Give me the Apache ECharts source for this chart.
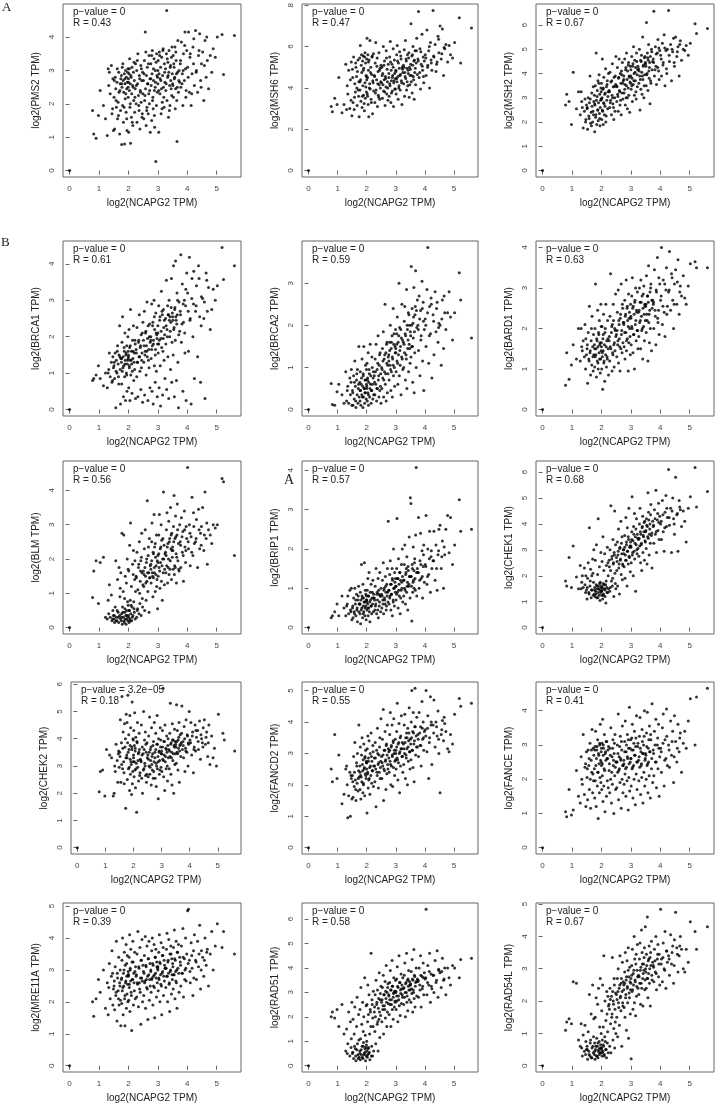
<!DOCTYPE html>
<html>
<head>
<meta charset="utf-8">
<script src="https://cdn.jsdelivr.net/npm/echarts@6/dist/echarts.min.js"></script>
<style>
  html, body { margin: 0; padding: 0; background: #fff; }
  #chart { width: 715px; height: 1107px; }
</style>
</head>
<body>
<div id="chart"></div>
<script>
// NCAPG2 expression of each sample, grouped in 0.25-wide bins (same samples in every panel)
const ncapg2 = [
  [0],
  [0.78, 0.82, 0.9, 0.98],
  [1.04, 1.15, 1.22],
  [1.28, 1.31, 1.35, 1.38, 1.42, 1.44, 1.47, 1.49, 1.33, 1.46],
  [1.51, 1.53, 1.55, 1.57, 1.59, 1.61, 1.63, 1.65, 1.67, 1.68, 1.7, 1.72, 1.73, 1.74, 1.52, 1.58, 1.62, 1.66, 1.71],
  [1.76, 1.77, 1.78, 1.79, 1.8, 1.82, 1.83, 1.84, 1.86, 1.87, 1.88, 1.89, 1.9, 1.92, 1.93, 1.94, 1.95, 1.96, 1.98, 1.99, 1.77, 1.81, 1.85, 1.88, 1.91, 1.94, 1.97, 1.99],
  [2.0, 2.01, 2.02, 2.03, 2.04, 2.05, 2.06, 2.07, 2.08, 2.1, 2.11, 2.12, 2.14, 2.15, 2.17, 2.18, 2.2, 2.21, 2.23, 2.24, 2.0, 2.03, 2.06, 2.09, 2.13, 2.16, 2.19, 2.22],
  [2.26, 2.28, 2.29, 2.31, 2.32, 2.34, 2.36, 2.37, 2.39, 2.4, 2.42, 2.43, 2.45, 2.46, 2.48, 2.49, 2.27, 2.3, 2.35, 2.38, 2.41, 2.44, 2.47],
  [2.51, 2.52, 2.54, 2.55, 2.57, 2.58, 2.6, 2.61, 2.63, 2.64, 2.66, 2.67, 2.69, 2.7, 2.71, 2.73, 2.74, 2.53, 2.56, 2.59, 2.62, 2.65, 2.68, 2.72],
  [2.76, 2.77, 2.79, 2.8, 2.81, 2.83, 2.84, 2.85, 2.87, 2.88, 2.89, 2.91, 2.92, 2.93, 2.95, 2.96, 2.98, 2.99, 2.76, 2.79, 2.82, 2.85, 2.88, 2.91, 2.94, 2.97],
  [3.0, 3.01, 3.03, 3.04, 3.05, 3.07, 3.08, 3.09, 3.11, 3.12, 3.13, 3.15, 3.16, 3.18, 3.19, 3.21, 3.22, 3.24, 3.0, 3.03, 3.06, 3.1, 3.14, 3.17, 3.2, 3.23],
  [3.26, 3.27, 3.29, 3.3, 3.31, 3.33, 3.34, 3.36, 3.37, 3.38, 3.4, 3.41, 3.43, 3.44, 3.46, 3.47, 3.49, 3.28, 3.32, 3.35, 3.39, 3.42, 3.45, 3.48],
  [3.5, 3.52, 3.53, 3.55, 3.56, 3.58, 3.59, 3.6, 3.62, 3.63, 3.65, 3.66, 3.68, 3.7, 3.72, 3.74, 3.51, 3.54, 3.57, 3.61, 3.64, 3.67, 3.71],
  [3.76, 3.78, 3.8, 3.83, 3.85, 3.87, 3.9, 3.92, 3.94, 3.96, 3.98, 3.77, 3.82, 3.86, 3.91, 3.95],
  [4.01, 4.04, 4.07, 4.1, 4.13, 4.16, 4.19, 4.21, 4.24, 4.03, 4.09, 4.15, 4.22],
  [4.28, 4.31, 4.35, 4.38, 4.42, 4.45, 4.48, 4.3, 4.4, 4.47],
  [4.52, 4.56, 4.6, 4.64, 4.68, 4.72, 4.58, 4.66],
  [4.78, 4.83, 4.88, 4.95],
  [5.02, 5.18, 5.23],
  [5.6]
];

// each gene: values of the same samples, bin by bin
const pms2 = [
  [0],
  [1.8, 1.1, 0.97, 1.65],
  [2.4, 1.95, 1.55],
  [1.05, 3.05, 2.95, 2.3, 3.15, 1.7, 2.75, 1.2, 2.55, 1.85],
  [2.2, 1.25, 2.8, 2.45, 1.9, 2.65, 1.55, 2.05, 2.95, 2.35, 1.1, 2.6, 1.8, 2.75, 2.7, 2.1, 3.05, 1.65, 2.4],
  [2.85, 0.78, 2.5, 3.1, 1.95, 2.7, 1.45, 2.35, 2.9, 0.8, 2.6, 2.15, 3.0, 1.75, 2.8, 2.45, 1.2, 2.65, 3.05, 2.2, 2.6, 3.2, 1.9, 2.75, 2.3, 1.55, 2.95, 2.5],
  [2.75, 1.15, 2.9, 2.4, 3.35, 1.9, 2.6, 0.82, 2.85, 1.6, 2.3, 3.1, 2.55, 1.35, 2.95, 2.1, 2.7, 1.75, 2.45, 3.2, 2.65, 3.05, 2.0, 2.8, 1.45, 2.5, 3.25, 2.2],
  [2.0, 3.0, 1.45, 2.6, 3.5, 2.25, 1.8, 2.85, 1.25, 2.4, 3.15, 2.05, 2.7, 1.6, 2.95, 2.3, 2.55, 3.3, 1.95, 2.75, 2.35, 3.05, 1.7],
  [2.7, 1.55, 3.3, 2.1, 4.15, 2.45, 1.35, 2.85, 1.9, 3.1, 2.6, 1.7, 2.3, 3.45, 2.0, 2.75, 1.15, 2.9, 2.25, 3.55, 1.8, 2.6, 3.2, 2.4],
  [3.2, 2.55, 1.5, 2.9, 3.6, 2.2, 1.85, 2.7, 3.35, 2.4, 1.3, 3.0, 2.65, 0.27, 1.95, 3.5, 2.35, 2.8, 2.75, 3.45, 2.1, 3.05, 1.65, 2.5, 3.25, 2.85],
  [2.6, 3.3, 1.15, 2.9, 3.55, 2.3, 2.75, 3.1, 1.7, 2.45, 3.4, 2.05, 2.85, 3.65, 2.5, 1.9, 3.2, 2.65, 3.0, 2.4, 3.45, 2.7, 1.85, 3.6, 2.2, 2.95],
  [3.05, 2.4, 3.5, 4.8, 2.1, 2.8, 3.25, 1.6, 2.95, 3.6, 2.55, 1.95, 3.15, 2.7, 3.4, 2.25, 2.9, 2.6, 3.35, 2.85, 1.8, 3.1, 2.45, 3.7],
  [2.6, 3.45, 2.2, 3.1, 2.75, 3.7, 1.85, 2.45, 3.3, 2.9, 0.87, 2.5, 3.9, 2.35, 3.0, 2.65, 2.55, 3.2, 2.8, 3.55, 2.1, 2.95, 2.7],
  [3.2, 2.5, 3.85, 2.9, 1.95, 3.5, 2.7, 4.15, 3.05, 2.4, 3.6, 3.3, 2.6, 3.0, 3.75, 2.2],
  [3.1, 4.15, 2.35, 3.5, 1.95, 2.9, 3.7, 3.2, 2.55, 2.8, 3.4, 2.3, 3.95],
  [4.2, 3.0, 2.35, 3.45, 4.1, 2.7, 3.2, 2.95, 3.6, 2.5],
  [3.55, 2.1, 3.9, 2.8, 3.3, 2.45, 3.15, 4.0],
  [3.45, 2.95, 3.65, 3.4],
  [4.0, 4.08, 2.88],
  [4.05]
];
const msh6 = [
  [0],
  [3.1, 2.85, 3.5, 3.2],
  [4.5, 2.8, 3.2],
  [5.15, 2.95, 3.7, 4.85, 3.0, 4.4, 5.25, 2.65, 4.1, 3.4],
  [4.9, 3.3, 5.5, 2.95, 4.2, 3.8, 5.0, 4.55, 3.15, 4.8, 5.35, 3.6, 4.3, 2.6, 4.5, 3.55, 5.2, 4.0, 3.9],
  [5.45, 3.9, 6.05, 4.4, 3.35, 5.6, 4.75, 3.05, 5.3, 4.1, 5.55, 3.65, 4.95, 2.9, 5.5, 4.25, 3.5, 5.2, 4.6, 3.8, 4.3, 5.1, 3.6, 4.85, 3.25, 5.7, 4.05, 4.55],
  [5.4, 6.4, 3.7, 4.5, 5.6, 3.2, 4.85, 2.6, 5.35, 4.2, 6.3, 3.95, 5.0, 3.45, 4.65, 5.5, 2.75, 4.35, 5.65, 3.85, 4.4, 3.6, 5.25, 4.0, 4.75, 3.3, 5.55, 4.25],
  [4.6, 3.3, 5.2, 6.2, 3.9, 4.4, 5.45, 3.1, 4.8, 3.65, 5.7, 4.15, 3.45, 4.95, 4.3, 5.1, 4.55, 3.75, 5.05, 4.2, 3.55, 4.85, 4.0],
  [4.25, 5.0, 3.5, 4.7, 6.0, 3.85, 4.4, 5.3, 3.15, 4.55, 4.05, 5.8, 3.7, 4.9, 4.3, 3.4, 5.15, 4.6, 4.15, 5.1, 3.8, 4.45, 5.45, 4.0],
  [4.5, 3.6, 5.5, 4.1, 6.25, 3.3, 4.85, 4.35, 5.15, 3.85, 4.6, 5.9, 3.1, 4.25, 5.35, 4.7, 3.95, 4.45, 4.7, 4.2, 5.25, 3.75, 4.5, 5.0, 4.35, 3.95],
  [4.8, 3.7, 5.6, 4.3, 6.05, 4.55, 3.45, 5.2, 4.1, 4.95, 5.75, 3.9, 4.65, 5.4, 4.35, 3.2, 5.0, 4.75, 4.85, 4.45, 5.3, 4.0, 4.6, 5.55, 4.25, 4.9],
  [5.1, 4.2, 5.85, 3.6, 4.75, 6.3, 4.45, 5.3, 3.9, 4.95, 5.6, 4.1, 4.7, 5.45, 3.55, 5.0, 4.6, 5.0, 4.55, 5.4, 4.3, 4.85, 5.7, 4.15],
  [4.9, 7.1, 4.3, 5.55, 3.75, 5.1, 6.0, 4.55, 5.3, 3.45, 4.75, 5.8, 4.15, 5.2, 6.4, 4.65, 5.15, 4.6, 5.6, 4.4, 5.35, 4.95, 5.8],
  [5.4, 7.7, 4.5, 5.9, 3.95, 5.15, 6.6, 4.85, 5.5, 4.25, 5.3, 5.3, 4.75, 5.75, 5.05, 4.55],
  [5.6, 4.6, 6.8, 5.1, 5.8, 4.0, 6.2, 5.35, 4.85, 5.45, 5.0, 6.0, 5.2],
  [7.75, 5.5, 6.1, 4.8, 5.25, 6.5, 5.7, 5.55, 5.15, 6.35],
  [7.0, 5.4, 6.85, 4.6, 5.9, 6.1, 5.65, 5.95],
  [5.25, 6.05, 5.6, 5.45],
  [6.2, 7.4, 5.2],
  [6.9]
];
const msh2 = [
  [0],
  [2.7, 3.15, 2.85, 1.9],
  [4.05, 2.55, 3.25],
  [2.3, 3.25, 2.6, 1.75, 2.45, 2.95, 2.1, 2.7, 2.85, 2.0],
  [2.55, 1.7, 3.0, 2.25, 2.8, 3.9, 1.95, 2.4, 3.2, 2.65, 2.0, 3.45, 2.3, 2.85, 2.6, 2.15, 2.95, 1.85, 2.45],
  [3.1, 1.6, 2.7, 3.5, 2.2, 4.85, 2.9, 1.9, 3.3, 2.5, 3.7, 2.05, 2.8, 3.95, 2.35, 3.15, 1.85, 2.6, 3.4, 2.95, 2.75, 2.3, 3.05, 2.5, 3.6, 2.15, 2.9, 3.25],
  [3.6, 2.1, 3.0, 4.6, 2.45, 3.35, 1.9, 2.8, 3.85, 2.3, 3.15, 2.65, 4.2, 2.0, 3.45, 2.9, 3.7, 2.55, 3.25, 4.0, 2.95, 2.5, 3.4, 2.75, 3.2, 2.25, 3.55, 3.05],
  [3.3, 2.6, 4.05, 2.9, 3.65, 2.3, 3.1, 4.4, 2.75, 3.45, 2.1, 3.85, 3.0, 2.45, 3.55, 4.7, 3.25, 2.8, 3.7, 3.0, 2.6, 3.45, 3.9],
  [3.5, 2.85, 4.25, 3.15, 2.45, 3.8, 4.6, 3.3, 2.7, 4.0, 3.6, 2.3, 3.95, 3.2, 4.45, 2.95, 3.7, 3.45, 3.05, 3.85, 3.25, 2.9, 4.1, 3.6],
  [3.9, 3.2, 4.6, 3.55, 2.7, 4.25, 3.0, 4.85, 3.75, 2.55, 4.1, 3.4, 4.45, 3.1, 3.85, 2.4, 4.3, 3.6, 3.75, 3.35, 4.15, 3.5, 3.0, 4.35, 3.9, 3.65],
  [4.15, 3.35, 4.7, 3.8, 2.85, 4.4, 3.55, 5.1, 4.0, 3.1, 4.55, 3.7, 4.25, 2.95, 4.85, 3.95, 3.45, 4.3, 3.9, 3.5, 4.3, 3.7, 4.05, 3.25, 4.5, 4.15],
  [4.2, 3.6, 5.0, 3.9, 2.5, 4.55, 3.35, 4.75, 4.05, 3.15, 5.5, 3.75, 4.35, 3.0, 4.65, 3.95, 4.45, 4.1, 3.75, 4.5, 3.9, 4.3, 3.5, 4.7],
  [4.4, 3.5, 6.1, 4.0, 4.85, 3.3, 4.55, 5.2, 3.8, 4.25, 2.75, 4.7, 3.6, 5.0, 4.15, 4.5, 4.3, 3.95, 4.65, 4.1, 4.45, 3.7, 4.9],
  [4.6, 6.57, 3.9, 5.1, 4.3, 3.55, 4.85, 5.4, 4.1, 3.75, 4.95, 4.45, 4.15, 4.8, 4.25, 5.05],
  [4.75, 3.9, 5.25, 4.45, 5.6, 3.5, 4.95, 4.2, 5.0, 4.6, 4.35, 5.05, 4.0],
  [6.6, 4.5, 5.2, 3.7, 4.9, 5.45, 4.3, 4.75, 5.0, 4.45],
  [5.5, 4.7, 5.1, 3.9, 5.35, 4.55, 4.9, 5.2],
  [5.0, 4.95, 5.15, 4.75],
  [5.25, 6.05, 5.65],
  [5.85]
];
const brca1 = [
  [0],
  [0.8, 0.85, 0.95, 1.2],
  [0.85, 0.65, 1.0],
  [0.6, 1.0, 1.55, 0.9, 1.3, 0.75, 1.45, 1.15, 1.1, 0.8],
  [1.2, 0.85, 1.55, 0.05, 1.35, 1.0, 1.75, 1.25, 0.7, 1.5, 2.3, 1.1, 0.15, 1.4, 1.3, 1.05, 1.6, 0.9, 1.45],
  [1.3, 0.7, 1.85, 1.05, 2.55, 1.45, 0.35, 1.2, 1.6, 0.9, 2.1, 1.35, 0.25, 1.55, 1.0, 1.75, 0.5, 1.25, 2.0, 1.4, 1.4, 1.15, 1.7, 1.25, 1.5, 0.95, 1.35, 1.6],
  [1.5, 0.6, 2.2, 1.15, 1.7, 0.25, 1.35, 2.75, 0.95, 1.6, 1.25, 0.45, 1.9, 1.4, 2.3, 0.8, 1.55, 1.1, 1.8, 0.3, 1.45, 1.2, 1.75, 1.35, 1.05, 1.6, 1.3, 1.9],
  [1.65, 0.9, 2.25, 1.3, 0.35, 1.85, 1.45, 2.6, 1.05, 1.7, 0.55, 2.05, 1.35, 1.55, 0.2, 2.4, 1.55, 1.3, 1.9, 1.45, 1.75, 1.15, 2.1],
  [1.9, 1.3, 2.7, 0.4, 1.6, 2.1, 0.95, 1.75, 2.95, 1.45, 0.25, 2.3, 1.65, 1.15, 2.0, 0.6, 1.85, 1.75, 1.5, 2.15, 1.6, 1.95, 1.35, 2.35],
  [2.0, 1.4, 2.9, 0.5, 1.75, 2.4, 0.15, 1.9, 3.0, 1.2, 2.2, 0.75, 1.65, 2.65, 1.05, 2.05, 0.35, 1.8, 1.9, 1.65, 2.3, 1.8, 2.55, 1.5, 2.1, 1.95],
  [2.3, 1.55, 2.85, 0.6, 1.9, 2.55, 1.2, 0.1, 2.15, 3.25, 1.7, 2.6, 0.4, 1.95, 2.75, 1.35, 2.45, 0.85, 2.1, 1.8, 2.45, 1.95, 2.7, 1.6, 2.25, 2.05],
  [2.5, 1.8, 3.55, 0.55, 2.2, 2.85, 1.45, 2.6, 0.3, 3.0, 2.0, 2.55, 1.1, 2.4, 3.6, 0.75, 2.65, 2.3, 2.0, 2.6, 2.45, 2.15, 2.8, 1.85],
  [2.55, 1.5, 3.95, 2.25, 0.35, 2.8, 1.9, 4.08, 2.45, 0.8, 3.2, 2.6, 1.3, 0.05, 2.95, 2.15, 2.45, 2.2, 2.75, 2.55, 2.35, 3.0, 2.05],
  [2.7, 4.25, 1.85, 3.45, 0.5, 2.4, 3.0, 1.55, 2.85, 0.25, 3.75, 2.6, 2.35, 2.9, 2.1, 3.3],
  [3.2, 1.6, 4.18, 2.5, 0.15, 3.6, 2.0, 2.9, 0.85, 2.7, 2.45, 3.05, 3.8],
  [2.7, 3.4, 1.45, 3.95, 2.55, 0.75, 3.1, 2.85, 3.6, 2.3],
  [3.05, 2.5, 0.3, 3.75, 2.7, 3.35, 2.95, 3.55],
  [2.2, 2.75, 3.3, 3.0],
  [3.4, 4.45, 3.57],
  [3.95]
];
const brca2 = [
  [0],
  [0.62, 0.12, 0.1, 0.42],
  [0.6, 0.35, 0.15],
  [0.9, 0.2, 0.55, 0.15, 0.75, 0.35, 0.95, 0.1, 0.45, 0.65],
  [0.45, 0.1, 0.8, 0.25, 1.15, 0.55, 0.05, 0.7, 0.35, 0.95, 0.15, 0.6, 1.5, 0.3, 0.4, 0.65, 0.2, 0.85, 0.5],
  [0.65, 0.2, 0.9, 0.45, 0.1, 0.75, 0.35, 1.2, 0.55, 0.05, 0.85, 0.3, 1.5, 0.5, 0.15, 0.7, 0.4, 1.05, 0.25, 0.6, 0.45, 0.6, 0.3, 0.8, 0.5, 0.4, 0.7, 0.95],
  [0.55, 1.1, 0.2, 0.75, 0.4, 1.35, 0.1, 0.65, 0.95, 0.3, 0.5, 1.55, 0.8, 0.15, 0.45, 1.25, 0.6, 0.25, 0.9, 0.35, 0.5, 0.7, 0.35, 0.85, 0.6, 0.45, 1.0, 0.75],
  [0.8, 0.35, 1.2, 0.6, 1.55, 0.2, 0.95, 0.5, 1.75, 0.7, 0.3, 1.05, 0.45, 1.35, 0.85, 0.15, 0.65, 0.9, 0.5, 1.1, 0.8, 1.3, 0.55],
  [1.0, 0.5, 1.45, 0.75, 1.85, 0.3, 1.2, 0.9, 2.5, 0.6, 1.35, 0.2, 1.1, 1.6, 0.4, 0.85, 1.25, 0.95, 1.15, 0.7, 1.3, 0.85, 1.55, 1.05],
  [1.3, 0.7, 1.6, 1.05, 2.0, 0.45, 1.45, 0.9, 1.75, 0.3, 1.2, 2.4, 0.8, 1.55, 1.0, 0.55, 1.35, 1.9, 1.15, 1.4, 0.95, 1.6, 1.25, 1.05, 1.8, 1.5],
  [1.45, 0.9, 1.8, 1.15, 2.2, 0.6, 1.6, 1.3, 3.0, 0.8, 1.95, 1.05, 1.5, 0.35, 1.7, 2.5, 1.2, 0.95, 1.35, 1.55, 1.1, 1.75, 1.4, 1.9, 1.25, 1.65],
  [1.6, 1.0, 2.1, 1.35, 2.45, 0.7, 1.75, 1.2, 2.85, 0.5, 1.9, 1.45, 2.3, 0.9, 1.55, 2.0, 1.1, 1.55, 1.8, 1.3, 2.0, 1.65, 2.25, 1.45],
  [1.85, 1.25, 3.4, 1.5, 2.4, 0.65, 2.05, 1.7, 2.9, 0.4, 1.35, 2.25, 3.3, 1.0, 1.95, 2.6, 1.75, 2.0, 1.5, 2.2, 1.85, 2.45, 2.35],
  [2.0, 1.4, 2.7, 0.8, 2.35, 1.75, 3.05, 1.15, 2.55, 0.45, 1.9, 1.9, 2.15, 1.65, 2.4, 2.1],
  [2.15, 1.5, 2.85, 3.85, 1.1, 2.45, 1.8, 2.65, 0.75, 2.0, 2.3, 1.75, 2.5],
  [2.25, 1.3, 2.8, 1.85, 2.55, 1.6, 2.05, 2.1, 2.4, 1.95],
  [2.0, 1.05, 2.6, 1.45, 2.3, 1.9, 2.15, 2.7],
  [2.3, 2.8, 2.2, 1.65],
  [2.3, 3.25, 2.6],
  [1.7]
];
const bard1 = [
  [0],
  [0.6, 1.4, 0.75, 1.1],
  [1.6, 1.25, 2.0],
  [1.2, 2.0, 1.45, 1.7, 1.3, 2.1, 1.75, 1.35, 1.55, 1.0],
  [1.5, 0.65, 1.9, 1.25, 2.55, 1.4, 0.85, 1.7, 1.1, 2.3, 1.55, 0.95, 1.85, 1.35, 1.6, 1.2, 1.45, 2.0, 1.3],
  [1.6, 1.05, 2.0, 1.3, 3.1, 1.5, 0.8, 1.75, 1.2, 2.45, 1.55, 1.0, 1.9, 1.4, 2.2, 1.25, 1.65, 0.9, 2.6, 1.45, 1.5, 1.35, 1.7, 1.15, 1.85, 1.6, 1.25, 2.05],
  [1.55, 1.0, 2.05, 1.3, 0.5, 1.75, 1.45, 2.35, 1.15, 1.6, 0.7, 1.9, 1.35, 2.6, 1.05, 1.7, 1.25, 2.2, 1.5, 0.85, 1.65, 1.4, 1.85, 1.2, 2.0, 1.55, 1.3, 1.75],
  [1.7, 1.2, 2.3, 3.35, 1.5, 1.9, 0.95, 2.1, 1.35, 2.6, 1.6, 1.05, 2.0, 1.45, 2.85, 1.8, 1.8, 1.55, 2.05, 1.4, 2.2, 1.65, 1.95],
  [1.85, 1.3, 2.4, 1.6, 2.95, 1.15, 2.1, 1.75, 0.95, 2.25, 1.5, 3.1, 1.95, 1.4, 2.6, 1.65, 2.15, 1.95, 1.7, 2.2, 1.55, 2.35, 1.85, 2.5],
  [2.1, 1.55, 2.7, 1.25, 2.3, 1.9, 3.2, 1.45, 2.5, 1.75, 2.2, 0.95, 2.85, 1.65, 2.4, 2.0, 1.35, 2.6, 2.15, 1.9, 2.35, 1.7, 2.55, 2.05, 2.25, 1.8],
  [2.25, 1.6, 2.8, 2.0, 3.25, 1.4, 2.55, 1.85, 2.35, 1.0, 2.65, 2.1, 3.0, 1.7, 2.45, 1.95, 2.9, 1.5, 2.3, 2.05, 2.5, 1.85, 2.7, 2.2, 2.4, 1.95],
  [2.4, 1.8, 3.0, 2.15, 2.65, 1.5, 3.2, 2.3, 1.95, 2.8, 1.25, 2.5, 2.05, 3.05, 1.7, 2.6, 2.2, 2.45, 2.2, 2.65, 2.0, 2.85, 2.35, 2.55],
  [2.55, 1.9, 3.3, 2.2, 2.8, 1.2, 2.65, 3.55, 2.35, 1.65, 2.9, 2.0, 3.1, 1.45, 2.5, 2.7, 2.6, 2.35, 2.8, 2.15, 2.45, 3.0, 2.7],
  [2.6, 2.0, 3.45, 2.3, 1.6, 2.9, 3.75, 2.15, 2.45, 1.85, 3.1, 2.65, 2.45, 2.95, 2.25, 3.25],
  [2.7, 4.0, 2.1, 3.2, 2.4, 1.8, 2.95, 3.5, 2.55, 2.8, 2.55, 3.1, 2.35],
  [2.9, 3.9, 2.45, 3.35, 2.7, 2.0, 3.1, 2.95, 3.25, 2.6],
  [3.45, 2.6, 3.7, 2.35, 3.05, 2.8, 3.15, 2.9],
  [3.3, 2.75, 2.6, 3.05],
  [3.6, 3.65, 3.5],
  [3.5]
];
const blm = [
  [0],
  [0.88, 1.65, 1.95, 0.7],
  [1.9, 2.05, 0.3],
  [0.25, 0.8, 1.25, 0.3, 0.95, 0.2, 0.5, 0.35, 0.4, 0.25],
  [0.25, 0.15, 0.6, 1.95, 0.3, 0.2, 1.4, 0.45, 0.15, 1.75, 0.35, 1.15, 0.25, 1.6, 0.35, 0.2, 0.5, 0.3, 0.9],
  [0.2, 0.4, 2.75, 0.1, 0.6, 1.05, 0.3, 2.7, 0.15, 0.85, 0.45, 1.5, 0.25, 0.1, 1.3, 0.5, 0.35, 2.0, 0.2, 0.65, 0.3, 0.45, 0.2, 0.55, 0.35, 0.25, 0.75, 1.7],
  [0.3, 1.65, 0.15, 0.5, 2.4, 0.25, 0.8, 3.05, 0.4, 1.2, 0.2, 0.6, 1.85, 0.35, 2.25, 0.75, 0.45, 1.4, 0.25, 1.05, 0.35, 0.5, 0.2, 0.65, 0.3, 1.55, 0.55, 1.95],
  [1.5, 0.3, 2.2, 0.55, 1.1, 1.75, 0.4, 2.5, 0.7, 1.35, 1.95, 0.35, 2.75, 1.6, 0.6, 1.25, 1.45, 0.5, 1.85, 1.0, 1.65, 2.05, 0.85],
  [1.65, 1.2, 2.3, 0.5, 2.85, 1.5, 0.8, 1.9, 1.35, 3.7, 1.05, 2.1, 1.6, 0.45, 2.6, 1.45, 1.8, 1.55, 1.75, 1.3, 2.0, 1.6, 2.35, 1.45],
  [1.85, 1.3, 2.5, 3.05, 1.6, 0.9, 2.2, 1.45, 3.3, 1.75, 2.35, 1.05, 2.05, 1.55, 2.7, 1.2, 1.95, 0.55, 1.7, 1.95, 1.5, 2.15, 1.6, 2.45, 1.8, 1.4],
  [2.1, 1.5, 2.7, 1.75, 3.3, 1.15, 2.3, 1.9, 3.0, 1.35, 2.55, 0.8, 2.0, 1.6, 3.95, 2.4, 1.25, 2.15, 1.9, 2.15, 1.65, 2.35, 1.8, 2.6, 2.0, 1.7],
  [2.2, 1.6, 2.85, 1.8, 3.35, 1.3, 2.45, 2.0, 3.1, 1.55, 2.6, 1.7, 3.5, 2.3, 1.4, 2.75, 2.05, 2.1, 2.35, 1.75, 2.5, 1.95, 2.7, 2.25],
  [2.35, 1.7, 2.95, 3.85, 1.55, 2.6, 1.75, 3.25, 2.15, 1.3, 2.7, 3.6, 1.95, 2.45, 1.65, 3.0, 2.25, 2.5, 1.8, 2.65, 2.05, 2.85, 1.7],
  [2.5, 1.75, 3.2, 2.2, 2.8, 1.35, 3.4, 2.35, 1.9, 2.95, 2.6, 2.4, 2.65, 2.1, 2.85, 2.25],
  [4.67, 2.3, 3.0, 1.8, 2.65, 3.8, 2.1, 3.35, 2.45, 2.5, 2.75, 2.2, 2.95],
  [2.5, 3.15, 1.75, 3.45, 2.3, 2.75, 2.95, 2.6, 2.85, 2.4],
  [3.5, 2.25, 3.95, 2.6, 1.85, 2.85, 2.7, 3.05],
  [2.7, 2.45, 3.0, 2.9],
  [3.0, 4.35, 4.25],
  [2.1]
];
const brip1 = [
  [0],
  [0.25, 0.3, 0.4, 0.6],
  [0.3, 0.8, 0.5],
  [0.3, 0.55, 0.8, 0.35, 0.95, 0.45, 1.0, 0.2, 0.6, 0.4],
  [0.5, 0.25, 0.75, 0.4, 1.0, 0.6, 0.3, 0.85, 0.5, 0.15, 0.7, 1.05, 0.4, 0.6, 0.55, 0.35, 0.7, 0.45, 0.8],
  [0.6, 0.35, 0.9, 0.1, 0.7, 1.6, 0.5, 0.8, 0.25, 1.1, 0.55, 0.75, 0.4, 1.65, 0.65, 0.3, 0.95, 0.55, 0.2, 0.8, 0.6, 0.45, 0.75, 0.35, 0.65, 0.5, 0.85, 0.7],
  [0.7, 0.45, 0.95, 0.6, 1.25, 0.3, 0.8, 0.5, 1.4, 0.65, 0.15, 0.9, 0.55, 1.1, 0.35, 0.75, 0.6, 1.2, 0.4, 0.85, 0.65, 0.5, 0.8, 0.4, 0.7, 0.55, 0.9, 0.75],
  [0.75, 0.45, 1.05, 0.6, 1.5, 0.35, 0.9, 0.7, 1.25, 0.25, 0.85, 0.55, 1.4, 0.8, 0.4, 1.0, 0.7, 0.55, 0.85, 0.45, 0.95, 0.65, 0.8],
  [0.85, 0.5, 1.2, 0.7, 1.65, 0.35, 1.0, 0.75, 0.6, 1.3, 0.9, 0.45, 1.1, 0.8, 1.5, 0.65, 2.7, 0.8, 0.6, 0.95, 0.7, 1.05, 0.55, 0.9],
  [0.95, 0.6, 1.35, 0.8, 1.7, 0.45, 1.1, 0.85, 1.5, 0.3, 1.2, 0.7, 2.0, 1.0, 0.55, 1.4, 0.9, 1.25, 0.95, 0.75, 1.1, 0.85, 1.25, 0.65, 1.0, 1.15],
  [1.05, 0.7, 1.5, 2.77, 0.9, 1.25, 0.5, 1.75, 1.1, 0.8, 1.4, 0.35, 1.2, 0.95, 1.6, 1.0, 2.0, 0.65, 1.05, 0.85, 1.25, 0.95, 1.4, 0.75, 1.15, 1.3],
  [1.2, 0.8, 1.6, 1.0, 2.1, 0.6, 1.35, 1.5, 0.9, 1.8, 1.15, 0.45, 1.45, 1.05, 2.3, 1.3, 0.75, 1.2, 0.95, 1.4, 1.05, 1.55, 1.1, 1.3],
  [3.3, 3.15, 1.3, 0.17, 1.6, 0.9, 1.15, 2.05, 1.45, 1.0, 1.75, 1.25, 2.35, 4.07, 0.8, 1.5, 1.3, 1.05, 1.5, 1.2, 1.65, 0.95, 1.4],
  [1.4, 2.8, 1.0, 1.7, 2.4, 1.25, 1.95, 0.75, 1.55, 2.1, 1.15, 1.4, 1.2, 1.6, 1.3, 1.85],
  [1.6, 2.85, 1.1, 2.0, 1.35, 2.45, 0.9, 1.8, 1.5, 1.55, 1.3, 1.75, 1.95],
  [1.7, 2.45, 1.2, 2.1, 0.95, 1.85, 2.5, 1.7, 1.5, 1.95],
  [2.6, 1.5, 2.2, 1.0, 1.85, 2.5, 1.8, 2.05],
  [2.85, 1.9, 2.8, 1.6],
  [2.1, 3.25, 2.45],
  [2.5]
];
const chek1 = [
  [0],
  [1.8, 1.6, 2.7, 1.55],
  [3.15, 1.95, 1.5],
  [2.4, 1.5, 2.0, 1.55, 2.3, 1.65, 2.0, 1.45, 1.75, 1.35],
  [1.1, 1.9, 2.5, 1.35, 3.85, 1.6, 2.25, 1.15, 2.0, 1.45, 2.65, 1.25, 1.75, 3.0, 1.55, 1.3, 1.8, 1.45, 2.1],
  [1.3, 1.55, 1.2, 2.6, 1.4, 1.65, 3.2, 1.15, 1.5, 2.05, 1.35, 4.2, 1.6, 1.25, 2.35, 1.45, 1.05, 1.75, 2.9, 1.4, 1.45, 1.3, 1.6, 1.15, 1.5, 1.7, 1.35, 1.55],
  [1.6, 1.25, 2.55, 1.45, 1.1, 3.5, 1.7, 1.3, 2.2, 1.5, 2.85, 1.2, 1.65, 0.95, 2.4, 1.55, 3.1, 1.35, 2.0, 1.5, 1.4, 1.55, 1.25, 1.65, 1.45, 1.8, 1.35, 2.5],
  [2.6, 1.4, 3.0, 2.2, 4.7, 1.8, 2.75, 1.6, 3.4, 2.45, 1.2, 2.9, 4.5, 2.1, 3.2, 1.5, 2.35, 1.55, 2.65, 1.9, 2.5, 2.8, 1.7],
  [2.7, 2.2, 3.3, 1.6, 2.95, 3.8, 2.45, 1.3, 3.1, 2.6, 4.1, 2.05, 2.85, 3.5, 1.85, 2.4, 3.0, 2.55, 2.8, 2.3, 3.05, 2.65, 3.25, 2.45],
  [3.0, 2.35, 3.55, 1.9, 2.8, 4.25, 2.6, 3.2, 1.6, 3.85, 2.95, 2.45, 3.4, 4.6, 2.7, 3.1, 2.15, 3.3, 2.85, 3.1, 2.6, 3.3, 2.95, 3.5, 2.75, 3.15],
  [3.1, 2.5, 3.7, 5.05, 2.8, 3.35, 2.0, 3.9, 2.95, 4.4, 2.65, 3.5, 1.4, 3.2, 4.2, 2.85, 3.6, 3.05, 3.15, 3.4, 2.9, 3.6, 3.25, 3.8, 3.0, 3.45],
  [3.4, 2.75, 4.0, 3.15, 4.6, 2.5, 3.6, 3.25, 2.2, 3.85, 4.3, 2.9, 3.5, 3.7, 2.6, 4.1, 3.3, 3.45, 3.7, 3.2, 3.9, 3.55, 4.05, 3.35],
  [3.7, 3.05, 4.2, 2.45, 3.9, 5.2, 3.45, 4.45, 2.8, 3.6, 4.0, 3.25, 4.75, 3.55, 2.3, 4.1, 3.75, 3.95, 3.5, 4.15, 3.8, 4.35, 3.65],
  [3.9, 3.25, 4.55, 3.6, 5.3, 2.9, 4.15, 3.75, 4.8, 3.4, 4.3, 3.95, 4.2, 3.7, 4.4, 4.05],
  [4.0, 3.4, 4.9, 3.7, 2.95, 4.45, 5.1, 3.9, 4.25, 4.1, 4.35, 3.85, 4.6],
  [6.1, 3.95, 4.6, 2.9, 5.0, 4.2, 3.6, 4.25, 4.5, 4.0],
  [5.8, 4.35, 2.95, 4.9, 4.55, 3.9, 4.4, 4.65],
  [4.5, 4.1, 3.3, 4.6],
  [5.05, 6.18, 4.65],
  [5.25]
];
const chek2 = [
  [0],
  [2.05, 2.8, 2.85, 1.9],
  [3.6, 3.4, 3.3],
  [1.9, 2.0, 2.8, 3.8, 3.2, 2.4, 3.55, 2.95, 3.0, 3.45],
  [3.5, 4.7, 2.4, 3.85, 5.55, 2.9, 4.25, 3.15, 2.35, 4.55, 3.7, 1.45, 3.3, 4.9, 3.35, 3.05, 3.65, 2.75, 4.0],
  [3.4, 4.6, 2.5, 3.85, 5.6, 2.9, 4.15, 3.6, 2.1, 4.85, 3.25, 2.7, 4.4, 3.05, 1.95, 3.7, 5.35, 2.35, 4.0, 3.15, 3.3, 3.5, 2.95, 3.75, 3.15, 3.6, 2.8, 3.95],
  [3.3, 4.3, 2.6, 3.75, 4.95, 2.85, 3.55, 2.2, 4.05, 3.1, 1.3, 3.9, 4.6, 2.95, 3.45, 2.45, 4.2, 3.6, 2.75, 3.25, 3.4, 3.15, 3.65, 2.9, 3.85, 3.2, 3.5, 2.65],
  [3.2, 4.5, 2.55, 3.7, 2.0, 3.45, 5.0, 2.9, 3.95, 3.1, 4.25, 2.65, 3.5, 2.4, 3.85, 3.3, 3.15, 3.4, 2.85, 3.6, 3.0, 3.8, 2.7],
  [3.4, 2.6, 4.1, 3.0, 4.8, 2.7, 3.6, 3.2, 2.3, 4.4, 3.35, 2.85, 3.75, 2.55, 3.9, 3.15, 4.6, 3.25, 3.5, 2.95, 3.7, 3.05, 3.45, 2.8],
  [3.5, 2.55, 4.2, 3.1, 2.25, 3.8, 4.85, 2.9, 3.35, 1.8, 4.0, 3.55, 2.7, 3.2, 4.4, 3.7, 2.95, 3.45, 3.3, 3.6, 3.0, 3.8, 3.15, 3.5, 2.85, 3.95],
  [3.55, 2.8, 4.3, 3.25, 5.85, 2.6, 3.9, 3.4, 2.1, 4.5, 3.15, 3.65, 2.9, 4.1, 3.5, 2.45, 3.75, 3.3, 3.45, 3.7, 3.2, 3.9, 3.35, 3.6, 3.0, 4.0],
  [3.6, 2.9, 4.2, 3.35, 5.3, 2.7, 3.85, 3.5, 2.3, 4.55, 3.2, 3.95, 2.0, 3.75, 4.35, 3.05, 3.45, 3.55, 3.8, 3.3, 3.95, 3.45, 3.7, 3.9],
  [3.8, 3.1, 5.25, 3.5, 4.3, 2.85, 3.95, 3.65, 4.6, 2.4, 3.75, 4.15, 3.35, 3.85, 5.2, 3.6, 3.7, 3.9, 3.45, 4.05, 3.55, 3.8, 4.2],
  [3.9, 3.3, 4.45, 2.8, 3.65, 4.7, 3.5, 4.1, 3.0, 3.8, 5.0, 3.75, 4.0, 3.55, 4.15, 3.85],
  [3.95, 4.6, 3.4, 4.25, 2.75, 3.7, 4.5, 3.55, 4.05, 3.85, 4.1, 3.6, 4.3],
  [4.3, 3.6, 4.65, 3.25, 4.0, 3.85, 4.4, 3.9, 4.15, 3.7],
  [4.7, 3.8, 4.25, 3.35, 4.5, 3.05, 4.05, 3.85],
  [4.1, 3.3, 3.65, 3.0],
  [4.9, 4.2, 3.95],
  [3.55]
];
const fancd2 = [
  [0],
  [2.5, 2.1, 3.6, 2.2],
  [2.95, 1.4, 1.7],
  [2.5, 2.6, 0.95, 1.65, 2.4, 1.0, 2.2, 1.55, 2.0, 2.3],
  [2.3, 1.6, 2.9, 1.95, 3.35, 2.15, 1.5, 2.7, 2.05, 3.0, 1.8, 2.45, 3.9, 2.25, 2.1, 2.4, 1.85, 2.6, 2.2],
  [2.6, 1.85, 3.2, 2.3, 1.55, 2.95, 2.1, 3.5, 2.45, 1.75, 2.8, 2.0, 3.3, 2.55, 1.65, 2.9, 2.35, 3.1, 2.2, 2.7, 2.4, 2.25, 2.65, 2.05, 2.5, 2.85, 2.3, 2.75],
  [2.7, 1.1, 3.15, 2.4, 3.55, 1.9, 2.85, 2.15, 3.4, 2.55, 1.7, 3.0, 2.3, 3.65, 2.05, 2.75, 2.45, 3.25, 1.95, 2.6, 2.5, 2.35, 2.75, 2.2, 2.6, 2.9, 2.45, 3.05],
  [2.85, 2.1, 3.35, 2.5, 1.3, 3.1, 2.3, 3.8, 2.65, 1.9, 2.95, 2.4, 3.5, 2.2, 2.75, 4.1, 2.6, 2.85, 2.4, 3.0, 2.7, 3.2, 2.55],
  [2.9, 2.2, 3.45, 2.6, 4.4, 1.5, 3.1, 2.45, 3.7, 2.75, 1.85, 3.25, 2.35, 2.95, 3.9, 2.5, 3.15, 2.7, 2.95, 2.5, 3.1, 2.8, 3.3, 2.65],
  [3.05, 2.4, 3.6, 2.75, 4.3, 2.0, 3.2, 2.6, 3.9, 2.9, 1.95, 3.35, 2.55, 4.1, 3.1, 2.3, 3.45, 2.8, 2.85, 3.1, 2.65, 3.25, 2.95, 3.4, 3.0, 2.75],
  [3.1, 2.5, 3.7, 2.85, 4.6, 2.15, 3.3, 2.7, 3.95, 3.0, 1.75, 3.5, 2.6, 3.15, 4.2, 2.9, 3.35, 2.4, 3.0, 3.2, 2.8, 3.35, 3.05, 3.55, 3.15, 2.9],
  [3.3, 2.65, 3.9, 3.0, 4.25, 2.2, 3.5, 2.85, 3.65, 3.15, 2.0, 3.8, 2.75, 3.4, 4.45, 3.05, 2.5, 3.15, 3.35, 2.95, 3.5, 3.2, 3.65, 3.05],
  [3.45, 2.8, 4.0, 5.0, 3.1, 3.7, 2.55, 4.3, 3.3, 2.1, 3.85, 5.07, 2.95, 3.55, 4.15, 3.2, 3.3, 3.5, 3.1, 3.65, 3.4, 3.85, 3.2],
  [3.6, 2.9, 4.3, 3.25, 3.85, 2.6, 4.65, 3.45, 4.0, 3.1, 3.7, 3.45, 3.65, 3.25, 3.8, 3.5],
  [3.75, 5.0, 3.05, 4.2, 2.2, 3.5, 4.8, 3.9, 2.65, 3.55, 3.8, 3.35, 4.0],
  [3.9, 4.7, 3.2, 4.0, 3.55, 4.35, 3.0, 3.65, 3.85, 3.45],
  [1.75, 3.6, 4.05, 3.4, 3.95, 3.7, 3.75, 4.15],
  [3.15, 3.05, 3.6, 3.3],
  [4.25, 4.75, 4.5],
  [4.6]
];
const fance = [
  [0],
  [1.05, 0.9, 1.7, 0.95],
  [1.1, 2.25, 1.5],
  [1.3, 2.65, 1.85, 3.3, 1.55, 2.35, 1.2, 2.8, 2.0, 2.45],
  [2.05, 1.4, 2.85, 2.4, 1.7, 3.05, 1.15, 2.55, 2.2, 3.45, 1.6, 2.9, 1.95, 2.7, 2.3, 2.6, 2.0, 2.85, 2.15],
  [2.3, 1.45, 2.95, 1.95, 3.4, 1.2, 2.6, 2.85, 1.8, 3.15, 2.2, 0.85, 2.75, 2.45, 1.6, 3.0, 2.05, 3.6, 1.9, 2.5, 2.85, 2.4, 2.95, 2.2, 2.7, 3.05, 2.55, 2.8],
  [2.4, 1.7, 3.05, 2.1, 3.75, 1.35, 2.7, 2.9, 1.8, 3.3, 2.25, 1.05, 2.8, 2.55, 1.5, 3.1, 1.95, 2.6, 1.75, 2.95, 2.9, 2.45, 3.0, 2.3, 2.75, 3.1, 2.6, 2.85],
  [2.25, 1.6, 2.9, 2.0, 3.5, 1.3, 2.65, 1.85, 3.15, 2.4, 1.0, 2.75, 2.1, 3.3, 1.7, 2.5, 2.45, 2.7, 2.2, 2.9, 2.55, 3.05, 2.35],
  [2.5, 1.75, 3.0, 2.2, 3.9, 1.4, 2.65, 2.3, 1.9, 3.25, 2.55, 1.15, 2.85, 2.0, 3.55, 1.6, 2.4, 2.5, 2.75, 2.25, 2.95, 2.6, 3.1, 2.4],
  [2.45, 1.85, 3.1, 2.15, 3.7, 1.5, 2.8, 2.35, 1.95, 3.3, 2.6, 1.1, 2.9, 2.05, 4.1, 1.65, 2.5, 3.15, 2.55, 2.8, 2.3, 3.0, 2.65, 3.15, 2.45, 2.9],
  [2.6, 1.8, 3.2, 2.3, 3.6, 1.45, 2.85, 2.4, 2.0, 3.4, 2.7, 1.25, 2.95, 2.15, 3.85, 1.7, 2.5, 3.05, 2.6, 2.85, 2.35, 3.05, 2.7, 3.2, 2.5, 2.95],
  [2.55, 1.95, 3.25, 2.35, 3.8, 1.55, 2.8, 2.45, 2.05, 3.45, 2.75, 1.3, 3.0, 2.2, 4.0, 1.8, 2.6, 2.65, 2.9, 2.4, 3.1, 2.75, 3.25, 2.55],
  [2.75, 2.0, 3.35, 2.4, 3.95, 1.6, 2.9, 2.5, 2.1, 3.55, 2.8, 1.45, 3.15, 2.3, 4.2, 1.9, 2.7, 2.95, 2.45, 3.15, 2.8, 3.3, 2.6],
  [2.85, 2.1, 3.4, 2.5, 3.75, 1.75, 3.0, 2.3, 3.6, 1.5, 2.65, 2.75, 3.0, 2.5, 3.2, 2.9],
  [2.9, 2.2, 3.5, 3.9, 1.8, 3.15, 2.6, 4.05, 2.4, 2.8, 3.05, 2.55, 3.25],
  [3.0, 2.35, 3.7, 2.7, 3.4, 1.9, 3.85, 2.85, 3.1, 2.65],
  [3.1, 2.5, 3.6, 2.8, 3.35, 2.2, 2.9, 3.2],
  [3.05, 3.4, 2.9, 3.7],
  [4.35, 3.0, 4.4],
  [4.65]
];
const mre11a = [
  [0],
  [2.0, 1.55, 2.1, 2.7],
  [2.3, 3.0, 1.8],
  [2.6, 1.6, 3.2, 2.1, 2.8, 3.6, 1.9, 2.4, 2.45, 2.9],
  [2.5, 1.75, 3.1, 2.2, 3.9, 1.4, 2.75, 2.35, 3.4, 1.9, 2.6, 3.0, 2.05, 1.25, 2.65, 2.3, 2.9, 2.1, 2.5],
  [2.7, 1.95, 3.3, 2.35, 4.0, 1.6, 2.9, 2.5, 3.55, 2.1, 1.25, 3.15, 2.6, 3.8, 1.8, 2.8, 2.25, 3.45, 2.0, 2.95, 2.75, 2.45, 3.0, 2.2, 2.65, 3.2, 2.55, 2.85],
  [2.85, 2.05, 3.4, 2.45, 4.1, 1.7, 3.0, 2.65, 3.65, 2.2, 1.1, 3.25, 2.7, 3.9, 1.9, 2.9, 2.35, 3.55, 2.1, 3.1, 2.8, 2.55, 3.05, 2.3, 2.7, 3.25, 2.6, 2.95],
  [2.8, 2.15, 3.5, 2.55, 4.2, 1.85, 3.05, 2.6, 3.7, 2.3, 1.3, 3.3, 2.75, 3.95, 2.0, 3.15, 2.85, 2.6, 3.1, 2.4, 2.75, 3.3, 2.65],
  [2.95, 2.2, 3.45, 2.6, 4.05, 1.8, 3.1, 2.7, 3.75, 2.4, 1.45, 3.35, 2.85, 3.9, 2.05, 3.2, 2.5, 2.9, 2.65, 3.15, 2.45, 2.8, 3.35, 2.7],
  [3.0, 2.3, 3.6, 2.75, 4.0, 1.9, 3.15, 2.8, 3.8, 2.45, 1.5, 3.4, 2.9, 3.65, 2.15, 3.25, 2.6, 3.05, 2.95, 2.7, 3.2, 2.5, 2.85, 3.4, 2.75, 3.1],
  [3.1, 2.35, 3.55, 2.7, 4.1, 2.0, 3.2, 2.85, 3.85, 2.5, 1.6, 3.45, 2.95, 3.7, 2.2, 3.3, 2.65, 3.05, 3.0, 2.75, 3.25, 2.55, 2.9, 3.45, 2.8, 3.15],
  [3.05, 2.45, 3.65, 2.8, 4.15, 2.0, 3.25, 2.9, 3.95, 2.55, 1.7, 3.5, 3.0, 3.75, 2.25, 3.35, 2.7, 3.05, 2.8, 3.3, 2.6, 2.95, 3.5, 2.85],
  [3.2, 2.4, 3.7, 2.85, 4.25, 2.1, 3.3, 2.95, 3.9, 2.6, 1.8, 3.55, 3.05, 3.8, 2.3, 3.4, 3.1, 2.85, 3.35, 2.65, 3.0, 3.55, 2.9],
  [3.25, 2.5, 3.75, 2.9, 4.3, 2.15, 3.35, 3.0, 4.0, 2.65, 3.5, 3.15, 2.9, 3.4, 2.7, 3.05],
  [4.85, 4.9, 3.3, 2.6, 3.85, 3.05, 2.2, 3.6, 4.1, 3.2, 2.95, 3.45, 2.75],
  [3.3, 2.7, 3.9, 3.1, 4.4, 2.4, 3.6, 3.25, 3.5, 3.0],
  [3.4, 2.8, 4.0, 3.15, 3.65, 2.5, 3.3, 3.55],
  [3.5, 4.2, 3.0, 3.75],
  [4.45, 3.7, 4.2],
  [3.5]
];
const rad51 = [
  [0],
  [2.0, 2.2, 1.95, 2.3],
  [1.6, 2.5, 1.3],
  [0.6, 1.5, 0.9, 2.2, 0.4, 1.8, 1.1, 2.6, 0.5, 0.75],
  [0.5, 1.9, 0.3, 1.3, 2.4, 0.7, 0.2, 1.6, 2.8, 0.9, 0.45, 2.1, 1.05, 0.35, 0.55, 0.8, 0.4, 0.65, 0.3],
  [0.6, 2.3, 0.25, 1.1, 3.2, 0.45, 1.7, 0.8, 2.6, 0.3, 1.4, 0.95, 2.0, 0.5, 3.6, 0.7, 1.25, 0.2, 2.45, 0.85, 0.5, 0.65, 0.35, 0.8, 0.45, 0.55, 0.75, 0.4],
  [1.0, 2.5, 0.35, 1.8, 3.3, 0.7, 2.1, 0.5, 2.9, 1.3, 0.25, 2.3, 1.6, 4.6, 0.8, 2.7, 0.4, 1.95, 3.05, 0.6, 0.6, 0.45, 0.75, 0.55, 2.2, 0.4, 2.5, 1.6],
  [2.2, 1.4, 2.9, 0.9, 3.5, 2.5, 1.7, 3.1, 0.6, 2.35, 1.9, 3.8, 1.15, 2.7, 2.05, 3.25, 2.4, 2.0, 2.6, 1.8, 2.75, 2.2, 2.95],
  [2.6, 1.8, 3.2, 2.3, 3.7, 1.3, 2.9, 2.45, 3.45, 1.95, 2.75, 4.1, 1.6, 3.0, 2.2, 3.35, 2.55, 2.7, 2.45, 2.9, 2.3, 3.05, 2.6, 3.2],
  [2.85, 2.1, 3.4, 2.5, 3.9, 1.6, 3.1, 2.7, 4.3, 2.3, 3.25, 1.9, 2.95, 3.6, 2.4, 3.05, 2.6, 3.5, 2.9, 2.7, 3.1, 2.5, 3.25, 2.8, 3.0, 2.65],
  [3.0, 2.3, 3.55, 2.65, 4.05, 1.8, 3.2, 2.85, 4.5, 2.45, 3.4, 2.05, 3.1, 3.75, 2.55, 3.3, 2.9, 3.6, 3.05, 2.85, 3.25, 2.7, 3.4, 2.95, 3.15, 2.8],
  [3.15, 2.5, 3.7, 2.8, 4.2, 2.0, 3.35, 3.0, 4.6, 2.6, 3.5, 2.25, 3.25, 3.9, 2.7, 3.45, 3.1, 3.2, 3.0, 3.4, 2.85, 3.55, 3.1, 3.3],
  [3.3, 2.6, 3.85, 2.95, 4.35, 2.2, 3.5, 3.1, 4.75, 2.75, 3.65, 2.4, 3.4, 4.0, 2.85, 3.55, 3.35, 3.15, 3.55, 3.0, 3.7, 3.25, 3.45],
  [3.45, 2.8, 4.0, 3.1, 4.5, 2.4, 3.65, 3.25, 4.2, 2.9, 3.8, 3.5, 3.3, 3.7, 3.15, 3.6],
  [3.55, 6.4, 2.9, 4.1, 3.3, 4.6, 2.6, 3.75, 3.15, 3.6, 3.4, 3.85, 3.25],
  [3.7, 3.0, 4.3, 3.4, 4.7, 2.8, 3.9, 3.7, 3.5, 3.95],
  [3.8, 3.2, 4.4, 3.5, 4.0, 2.9, 3.85, 3.55],
  [4.0, 3.6, 3.3, 4.1],
  [4.0, 3.6, 4.35],
  [4.4]
];
const rad54l = [
  [0],
  [1.1, 1.35, 1.45, 1.3],
  [2.6, 2.55, 0.8],
  [0.6, 1.3, 0.3, 0.95, 0.45, 1.25, 0.75, 0.5, 0.55, 0.35],
  [0.6, 0.2, 1.05, 0.45, 2.2, 0.3, 0.8, 1.6, 0.25, 0.55, 2.5, 0.4, 0.9, 1.45, 0.5, 0.35, 0.7, 0.25, 0.6],
  [0.35, 0.7, 0.2, 1.5, 0.5, 2.1, 0.3, 0.85, 0.6, 1.9, 0.25, 0.45, 2.4, 0.75, 0.35, 1.2, 0.55, 2.7, 0.4, 1.0, 0.45, 0.6, 0.3, 0.7, 0.5, 0.4, 0.65, 0.55],
  [0.5, 1.7, 0.3, 0.8, 2.5, 0.45, 1.2, 0.6, 3.4, 0.35, 0.9, 2.0, 0.5, 1.4, 0.25, 2.3, 0.7, 1.05, 0.4, 1.85, 0.55, 0.4, 0.65, 0.3, 0.75, 0.5, 1.6, 2.15],
  [1.9, 0.6, 2.4, 1.3, 0.4, 2.15, 1.6, 3.35, 0.8, 2.0, 1.15, 2.7, 0.55, 1.75, 2.25, 1.0, 1.75, 2.05, 1.5, 2.3, 1.9, 2.5, 1.35],
  [2.2, 1.5, 2.7, 0.9, 3.0, 1.95, 2.4, 1.25, 3.4, 2.1, 1.7, 2.55, 0.6, 2.3, 3.2, 1.85, 2.6, 2.05, 2.3, 1.8, 2.5, 2.15, 2.7, 1.95],
  [2.5, 1.8, 2.9, 1.5, 3.5, 2.2, 2.65, 1.1, 3.25, 2.4, 1.95, 3.65, 0.85, 2.75, 2.1, 3.05, 1.6, 2.35, 2.35, 2.55, 2.1, 2.75, 2.45, 2.95, 2.25, 2.6],
  [2.7, 0.22, 3.1, 2.3, 3.6, 1.75, 2.85, 2.5, 4.0, 1.95, 3.3, 2.6, 1.55, 3.45, 2.15, 2.95, 3.75, 2.4, 2.55, 2.8, 2.35, 2.95, 2.65, 3.15, 2.45, 2.75],
  [2.8, 2.2, 3.3, 2.55, 3.8, 1.9, 3.05, 4.2, 2.4, 3.5, 2.7, 1.85, 3.15, 2.95, 3.65, 2.35, 4.3, 2.75, 2.95, 2.55, 3.15, 2.85, 3.35, 2.65],
  [3.0, 2.4, 3.45, 2.7, 4.6, 2.1, 3.25, 2.85, 3.7, 2.55, 3.35, 1.85, 3.1, 3.85, 2.65, 3.2, 2.9, 3.1, 2.7, 3.3, 3.0, 3.5, 2.8],
  [3.1, 2.6, 3.6, 2.9, 4.0, 2.35, 3.3, 3.75, 2.75, 3.45, 2.5, 3.05, 3.25, 2.85, 3.45, 3.15],
  [4.84, 3.3, 2.6, 3.8, 3.0, 4.15, 2.4, 3.55, 3.2, 3.15, 3.35, 2.95, 3.55],
  [3.4, 2.8, 4.05, 3.15, 3.7, 2.55, 3.9, 3.3, 3.5, 3.1],
  [4.75, 3.65, 2.9, 3.4, 4.0, 3.6, 3.45, 3.7],
  [3.0, 2.9, 3.6, 3.2],
  [4.45, 4.15, 3.6],
  [4.3]
];

const genes = ['PMS2', 'MSH6', 'MSH2', 'BRCA1', 'BRCA2', 'BARD1', 'BLM', 'BRIP1', 'CHEK1',
  'CHEK2', 'FANCD2', 'FANCE', 'MRE11A', 'RAD51', 'RAD54L'];
const geneValues = [pms2, msh6, msh2, brca1, brca2, bard1, blm, brip1, chek1,
  chek2, fancd2, fance, mre11a, rad51, rad54l];
const pValues = ['0', '0', '0', '0', '0', '0', '0', '0', '0', '3.2e\u221205', '0', '0', '0', '0', '0'];
const rValues = ['0.43', '0.47', '0.67', '0.61', '0.59', '0.63', '0.56', '0.57', '0.68',
  '0.18', '0.55', '0.41', '0.39', '0.58', '0.67'];
const xTicks = [0, 1, 2, 3, 4, 5];
const yTicks = [
  [0, 1, 2, 3, 4], [0, 2, 4, 6, 8], [0, 1, 2, 3, 4, 5, 6],
  [0, 1, 2, 3, 4], [0, 1, 2, 3], [0, 1, 2, 3, 4],
  [0, 1, 2, 3, 4], [0, 1, 2, 3, 4], [0, 1, 2, 3, 4, 5, 6],
  [0, 1, 2, 3, 4, 5, 6], [0, 1, 2, 3, 4, 5], [0, 1, 2, 3, 4],
  [0, 1, 2, 3, 4, 5], [0, 1, 2, 3, 4, 5, 6], [0, 1, 2, 3, 4, 5]
];

// page layout of the 3 x 5 panel boxes
const COL_LEFT = [63, 302, 536];
const COL_WIDTH = [178, 176, 178];
const ROW_TOP = [4, 241, 461, 682, 903];
const ROW_HEIGHT = [173, 175, 173, 172, 169];
const FONT = "'Liberation Sans', Arial, sans-serif";
const AXIS_GREY = '#666';

function pairUp(ys) {
  const pts = [];
  ncapg2.forEach((bin, b) => {
    const row = ys[b] || [];
    const n = Math.min(bin.length, row.length);
    for (let i = 0; i < n; i++) pts.push([bin[i], row[i]]);
  });
  return pts;
}

// R's default axis range: data range padded by 4% on each side
function paddedRange(vals) {
  const lo = Math.min(...vals), hi = Math.max(...vals);
  const pad = (hi - lo) * 0.04;
  return [lo - pad, hi + pad];
}

const xRange = paddedRange(ncapg2.flat());

const grids = [], xAxes = [], yAxes = [], series = [], titles = [];
genes.forEach((gene, i) => {
  const col = i % 3, row = Math.floor(i / 3);
  // CHEK2 panel sits a little to the right in the original figure
  const left = gene === 'CHEK2' ? COL_LEFT[col] + 8 : COL_LEFT[col];
  const width = gene === 'CHEK2' ? COL_WIDTH[col] - 8 : COL_WIDTH[col];
  const top = ROW_TOP[row], height = ROW_HEIGHT[row];
  const yRange = paddedRange(geneValues[i].flat());

  grids.push({
    left, top, width, height,
    show: true, borderColor: AXIS_GREY, borderWidth: 1, backgroundColor: 'transparent'
  });
  xAxes.push({
    type: 'value', gridIndex: i, min: xRange[0], max: xRange[1],
    axisLine: { show: false },
    axisTick: { show: true, length: 4, customValues: xTicks, lineStyle: { color: AXIS_GREY } },
    axisLabel: { customValues: xTicks, fontSize: 8, color: '#444', margin: 8, fontFamily: FONT },
    splitLine: { show: false },
    name: 'log2(NCAPG2 TPM)', nameLocation: 'middle', nameGap: 21,
    nameTextStyle: { fontSize: 10, color: '#222', fontFamily: FONT }
  });
  yAxes.push({
    type: 'value', gridIndex: i, min: yRange[0], max: yRange[1],
    axisLine: { show: false },
    axisTick: { show: true, length: 4, customValues: yTicks[i], lineStyle: { color: AXIS_GREY } },
    axisLabel: { customValues: yTicks[i], fontSize: 8, color: '#444', margin: 7, rotate: 90, fontFamily: FONT },
    splitLine: { show: false },
    name: 'log2(' + gene + ' TPM)', nameLocation: 'middle', nameGap: 22,
    nameTextStyle: { fontSize: 10, color: '#222', fontFamily: FONT }
  });
  series.push({
    type: 'scatter', xAxisIndex: i, yAxisIndex: i,
    data: pairUp(geneValues[i]),
    symbolSize: 3, itemStyle: { color: '#000' }, silent: true
  });
  titles.push({
    text: 'p\u2212value = ' + pValues[i] + '\nR = ' + rValues[i],
    left: left + 10, top: top + 3, padding: 0,
    textStyle: { fontSize: 10, lineHeight: 11, fontWeight: 'normal', color: '#222', fontFamily: FONT }
  });
});

const chart = echarts.init(document.getElementById('chart'), null, { renderer: 'canvas' });
chart.setOption({
  animation: false,
  backgroundColor: '#fff',
  title: titles,
  grid: grids,
  xAxis: xAxes,
  yAxis: yAxes,
  series,
  graphic: [
    { type: 'text', left: 2, top: 1, style: { text: 'A', font: "13px 'Liberation Serif', serif", fill: '#222' } },
    { type: 'text', left: 1, top: 236, style: { text: 'B', font: "13px 'Liberation Serif', serif", fill: '#222' } },
    { type: 'text', left: 284, top: 473, style: { text: 'A', font: "14px 'Liberation Serif', serif", fill: '#222' } }
  ]
});
</script>
</body>
</html>
